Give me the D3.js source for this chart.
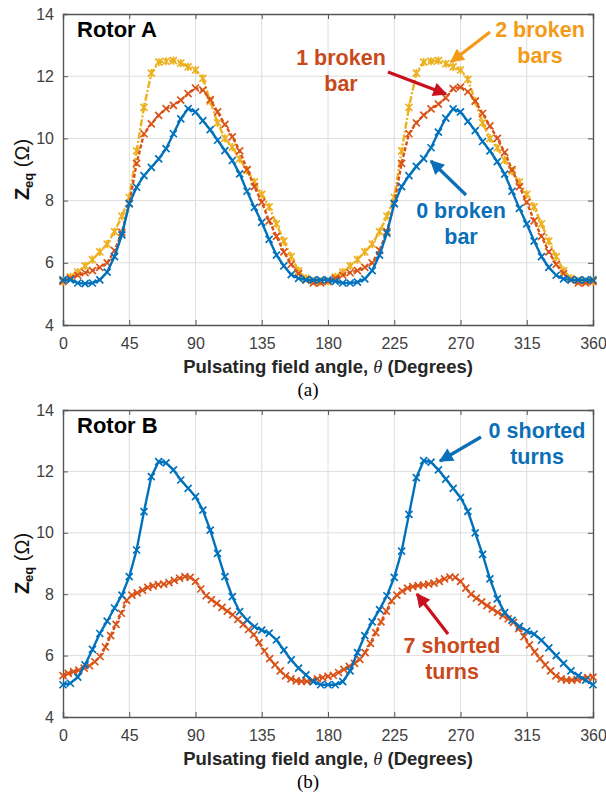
<!DOCTYPE html>
<html>
<head>
<meta charset="utf-8">
<script src="https://cdn.jsdelivr.net/npm/d3@7"></script>
<style>
  body { margin: 0; background: #fff; }
  text { font-family: "Liberation Sans", Arial, sans-serif; }
</style>
</head>
<body>
<div id="chart-area"></div>
<script>
// angles (degrees)
var angles5 = d3.range(0, 361, 5);
var angles36 = d3.range(0, 101).map(function(i) { return +(i * 3.6).toFixed(1); });

// Rotor A, Zeq (ohm), 5 degree steps
var rotorA_0bars = [5.45, 5.45, 5.35, 5.33, 5.35, 5.45, 5.7, 6.2, 6.9, 7.9, 8.43, 8.8, 9.07, 9.34, 9.67, 10.15, 10.63, 10.96, 10.85,
  10.57, 10.28, 9.94, 9.61, 9.29, 8.86, 8.3, 7.78, 7.3, 6.75, 6.25, 5.9, 5.62, 5.5, 5.45, 5.45, 5.45, 5.45,
  5.4, 5.35, 5.35, 5.38, 5.48, 5.75, 6.25, 6.95, 7.9, 8.45, 8.8, 9.1, 9.35, 9.7, 10.2, 10.65, 10.95, 10.85,
  10.55, 10.25, 9.9, 9.6, 9.25, 8.85, 8.3, 7.75, 7.25, 6.7, 6.2, 5.85, 5.6, 5.48, 5.45, 5.45, 5.45, 5.45];
var rotorA_1bar = [5.4, 5.5, 5.6, 5.68, 5.75, 5.85, 6.0, 6.39, 6.98, 7.9, 9.2, 10.15, 10.47, 10.74, 10.96, 11.06, 11.23, 11.44, 11.62,
  11.55, 11.25, 10.85, 10.45, 10.05, 9.6, 9.0, 8.45, 7.95, 7.35, 6.85, 6.35, 5.95, 5.65, 5.45, 5.35, 5.35, 5.4,
  5.5, 5.6, 5.68, 5.75, 5.85, 6.0, 6.4, 7.0, 7.9, 9.2, 10.15, 10.5, 10.75, 10.95, 11.1, 11.3, 11.6, 11.65,
  11.5, 11.2, 10.8, 10.4, 10.0, 9.55, 9.0, 8.45, 7.95, 7.35, 6.85, 6.35, 5.95, 5.65, 5.45, 5.35, 5.35, 5.4];
var rotorA_2bars = [5.4, 5.55, 5.7, 5.9, 6.1, 6.35, 6.6, 7.0, 7.5, 8.1, 9.6, 11.0, 12.1, 12.45, 12.48, 12.5, 12.42, 12.3, 12.2,
  11.93, 11.2, 10.5, 10.0, 9.72, 9.34, 8.97, 8.6, 8.2, 7.8, 7.25, 6.7, 6.2, 5.74, 5.5, 5.42, 5.4, 5.4,
  5.55, 5.7, 5.9, 6.1, 6.35, 6.6, 7.0, 7.5, 8.1, 9.6, 11.0, 12.1, 12.45, 12.48, 12.5, 12.4, 12.3, 12.2,
  11.9, 11.2, 10.5, 10.0, 9.7, 9.3, 8.95, 8.6, 8.2, 7.8, 7.25, 6.7, 6.2, 5.75, 5.5, 5.42, 5.4, 5.4];

// Rotor B, Zeq (ohm)
var rotorB_0turns = [5.05, 5.1, 5.3, 5.7, 6.2, 6.72, 7.12, 7.55, 7.97, 8.57, 9.44, 10.69, 11.83, 12.32, 12.28, 12.05, 11.72, 11.45, 11.18,
  10.74, 10.09, 9.33, 8.57, 7.92, 7.43, 7.16, 6.94, 6.83, 6.73, 6.51, 6.18, 5.86, 5.59, 5.37, 5.15, 5.05, 5.05,
  5.05, 5.15, 5.5, 6.1, 6.65, 7.1, 7.5, 7.95, 8.55, 9.4, 10.6, 11.8, 12.35, 12.3, 12.05, 11.75, 11.45, 11.15,
  10.7, 10.0, 9.3, 8.5, 7.85, 7.4, 7.15, 6.95, 6.8, 6.7, 6.5, 6.25, 6.0, 5.75, 5.5, 5.35, 5.2, 5.05];
// 3.6 degree steps
var rotorB_7turns = [5.35, 5.42, 5.48, 5.53, 5.59, 5.67, 5.8, 5.97, 6.28, 6.65, 7.02, 7.38, 7.8, 7.97, 8.04, 8.13, 8.22,
  8.27, 8.31, 8.33, 8.38, 8.45, 8.52, 8.57, 8.55, 8.42, 8.17, 7.95, 7.82, 7.7, 7.57, 7.45, 7.33, 7.18,
  7.02, 6.85, 6.68, 6.42, 6.15, 5.9, 5.7, 5.5, 5.34, 5.24, 5.18, 5.16, 5.16, 5.19, 5.24, 5.28, 5.32,
  5.36, 5.45, 5.55, 5.65, 5.75, 5.88, 6.1, 6.4, 6.75, 7.1, 7.45, 7.78, 7.97, 8.1, 8.2, 8.25, 8.28,
  8.3, 8.33, 8.36, 8.42, 8.5, 8.56, 8.55, 8.42, 8.2, 8.0, 7.87, 7.75, 7.63, 7.52, 7.41, 7.3, 7.2,
  7.08, 6.88, 6.62, 6.35, 6.12, 5.9, 5.7, 5.5, 5.34, 5.24, 5.2, 5.2, 5.22, 5.25, 5.28, 5.3];

var xTicks = [0, 45, 90, 135, 180, 225, 270, 315, 360];
var yTicks = [4, 6, 8, 10, 12, 14];

var blue = "#0072BD", orange = "#D95319", yellow = "#EDB120";

var width = 606, height = 794;
var left = 63, right = 593;

var svg = d3.select("#chart-area").append("svg")
    .attr("width", width)
    .attr("height", height)
    .style("display", "block");

svg.append("rect").attr("width", width).attr("height", height).attr("fill", "#fff");

svg.append("defs").selectAll("marker")
    .data([["ah-red", "#C8101E"], ["ah-orange", "#F39A17"], ["ah-blue", "#0B6FB8"]])
    .enter().append("marker")
    .attr("id", d => d[0])
    .attr("viewBox", "0 0 10 10")
    .attr("refX", 9).attr("refY", 5)
    .attr("markerWidth", 5).attr("markerHeight", 4.4)
    .attr("markerUnits", "strokeWidth")
    .attr("orient", "auto")
    .append("path").attr("d", "M0,0L10,5L0,10z").attr("fill", d => d[1]);

function drawPanel(opt) {
    var x = d3.scaleLinear().domain([0, 360]).range([left, right]);
    var y = d3.scaleLinear().domain([4, 14]).range([opt.bottom, opt.top]);
    var g = svg.append("g");

    // grid
    g.selectAll(".gx").data(xTicks.slice(1, -1)).enter().append("line")
        .attr("x1", d => x(d)).attr("x2", d => x(d))
        .attr("y1", opt.top).attr("y2", opt.bottom)
        .attr("stroke", "#dedede").attr("stroke-width", 1);
    g.selectAll(".gy").data(yTicks.slice(1, -1)).enter().append("line")
        .attr("x1", left).attr("x2", right)
        .attr("y1", d => y(d)).attr("y2", d => y(d))
        .attr("stroke", "#dedede").attr("stroke-width", 1);

    // axes
    var xAxis = d3.axisBottom(x).tickValues(xTicks).tickSize(-5).tickPadding(13);
    var yAxis = d3.axisLeft(y).tickValues(yTicks).tickSize(-5).tickPadding(9);
    g.append("g").attr("transform", "translate(0," + opt.bottom + ")").call(xAxis);
    g.append("g").attr("transform", "translate(" + left + ",0)").call(yAxis);
    g.append("g").attr("transform", "translate(0," + opt.top + ")")
        .call(d3.axisTop(x).tickValues(xTicks).tickSize(-5).tickFormat(""));
    g.append("g").attr("transform", "translate(" + right + ",0)")
        .call(d3.axisRight(y).tickValues(yTicks).tickSize(-5).tickFormat(""));
    g.selectAll(".domain").attr("stroke", "#555").attr("stroke-width", 1.4);
    g.selectAll(".tick line").attr("stroke", "#555");
    g.selectAll(".tick text").attr("fill", "#404040").style("font-size", "16px")
        .style("font-family", "'Liberation Sans', Arial, sans-serif");

    // series
    opt.series.forEach(function(s) {
        var pts = s.angles.map((a, i) => [a, s.values[i]]);
        var line = d3.line().x(d => x(d[0])).y(d => y(d[1]));
        g.append("path").datum(pts)
            .attr("d", line)
            .attr("fill", "none")
            .attr("stroke", s.color)
            .attr("stroke-width", 2.4)
            .attr("stroke-dasharray", s.dash || null);
        var m = 3.5;
        g.selectAll(null).data(pts).enter().append("path")
            .attr("transform", d => "translate(" + x(d[0]) + "," + y(d[1]) + ")")
            .attr("d", "M" + (-m) + "," + (-m) + "L" + m + "," + m + "M" + (-m) + "," + m + "L" + m + "," + (-m) +
                (s.star ? "M0," + (-m - 0.6) + "L0," + (m + 0.6) : ""))
            .attr("stroke", s.color)
            .attr("stroke-width", 1.7)
            .attr("fill", "none");
    });

    // panel title
    g.append("text").attr("x", 77).attr("y", opt.top + 23)
        .style("font-size", "22px").style("font-weight", "bold").attr("fill", "#000")
        .text(opt.title);

    // y label
    var yl = g.append("text")
        .attr("transform", "translate(29," + ((opt.top + opt.bottom) / 2) + ") rotate(-90)")
        .attr("text-anchor", "middle")
        .style("font-size", "20px").attr("fill", "#111");
    yl.append("tspan").style("font-weight", "bold").text("Z");
    yl.append("tspan").style("font-weight", "bold").style("font-size", "13px").attr("dy", 4).text("eq");
    yl.append("tspan").attr("dy", -4).text(" (Ω)");

    // x label
    var xl = g.append("text").attr("x", (left + right) / 2).attr("y", opt.bottom + 48)
        .attr("text-anchor", "middle")
        .style("font-size", "18.5px").style("font-weight", "bold").attr("fill", "#262626");
    xl.append("tspan").text("Pulsating field angle, ");
    xl.append("tspan").style("font-style", "italic").style("font-weight", "normal")
        .style("font-family", "'Liberation Serif', 'Times New Roman', serif").text("θ");
    xl.append("tspan").text(" (Degrees)");

    // caption
    g.append("text").attr("x", 308).attr("y", opt.bottom + 71)
        .attr("text-anchor", "middle")
        .style("font-size", "19px").style("font-family", "'Liberation Serif', 'Times New Roman', serif")
        .attr("fill", "#000").text(opt.caption);

    // annotations
    opt.notes.forEach(function(n) {
        var t = g.append("text").attr("text-anchor", "middle").attr("fill", n.color)
            .style("font-size", "21.5px").style("font-weight", "bold");
        n.lines.forEach(function(l, i) {
            t.append("tspan").attr("x", n.x).attr("y", n.y + i * 26).text(l);
        });
    });
    opt.arrows.forEach(function(a) {
        g.append("line")
            .attr("x1", a.from[0]).attr("y1", a.from[1])
            .attr("x2", a.to[0]).attr("y2", a.to[1])
            .attr("stroke", a.color).attr("stroke-width", 3.2)
            .attr("marker-end", "url(#" + a.marker + ")");
    });
}

drawPanel({
    top: 14, bottom: 325, title: "Rotor A", caption: "(a)",
    series: [
        { angles: angles5, values: rotorA_2bars, color: yellow, dash: "7,2,2,2", star: true },
        { angles: angles5, values: rotorA_1bar, color: orange, dash: "4,2" },
        { angles: angles5, values: rotorA_0bars, color: blue }
    ],
    notes: [
        { lines: ["2 broken", "bars"], x: 540, y: 37, color: "#F39A17" },
        { lines: ["1 broken", "bar"], x: 341, y: 65, color: "#C9491A" },
        { lines: ["0 broken", "bar"], x: 461, y: 218, color: "#0B6FB8" }
    ],
    arrows: [
        { from: [490, 32], to: [451, 62], color: "#F39A17", marker: "ah-orange" },
        { from: [388, 72], to: [446, 94], color: "#C8101E", marker: "ah-red" },
        { from: [466, 195], to: [431, 161], color: "#0B6FB8", marker: "ah-blue" }
    ]
});

drawPanel({
    top: 410, bottom: 717, title: "Rotor B", caption: "(b)",
    series: [
        { angles: angles36, values: rotorB_7turns, color: orange, dash: "4,2" },
        { angles: angles5, values: rotorB_0turns, color: blue }
    ],
    notes: [
        { lines: ["0 shorted", "turns"], x: 537, y: 438, color: "#0B6FB8" },
        { lines: ["7 shorted", "turns"], x: 452, y: 653, color: "#C9491A" }
    ],
    arrows: [
        { from: [481, 437], to: [440, 461], color: "#0B6FB8", marker: "ah-blue" },
        { from: [448, 634], to: [417, 594], color: "#C8101E", marker: "ah-red" }
    ]
});
</script>
</body>
</html>
